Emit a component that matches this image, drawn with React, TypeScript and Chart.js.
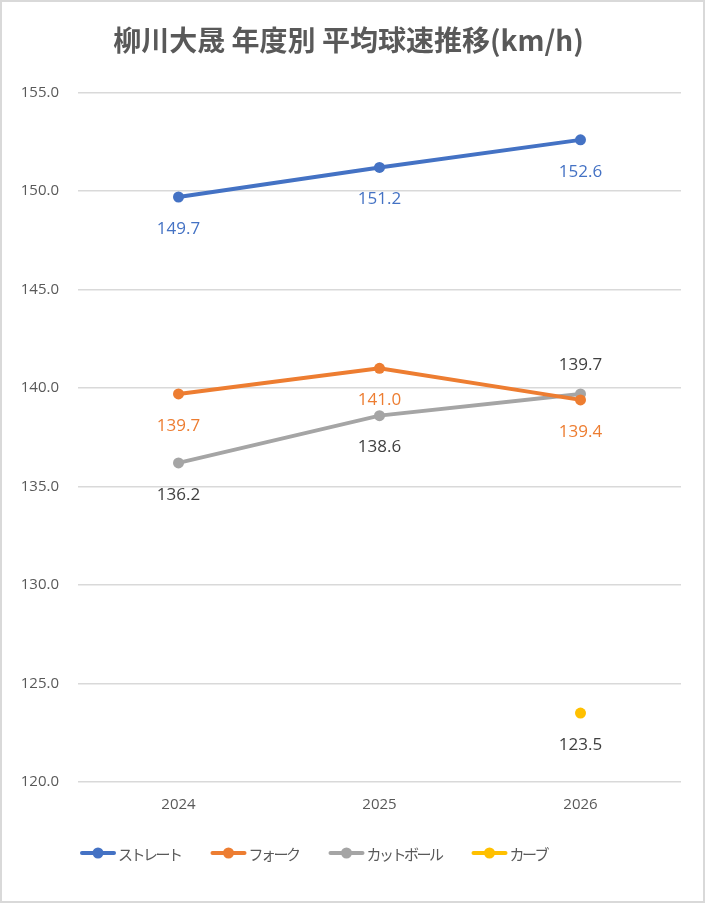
import { useEffect, useRef } from 'react';
import { Chart, registerables } from 'chart.js';

Chart.register(...registerables);

const years = ['2024', '2025', '2026'];
const straight = [149.7, 151.2, 152.6];
const fork = [139.7, 141.0, 139.4];
const cutter = [136.2, 138.6, 139.7];
const curve = [null, null, 123.5];

const seriesNames = ['ストレート', 'フォーク', 'カットボール', 'カーブ'];
const seriesColors = ['#4472C4', '#ED7D31', '#A5A5A5', '#FFC000'];
const labelColors = ['#4472C4', '#ED7D31', '#404040', '#404040'];
// label position per point: 1 = below, -1 = above
const labelSides = [
  [1, 1, 1],
  [1, 1, 1],
  [1, 1, -1],
  [1, 1, 1],
];

const FONT = '"Open Sans", "Noto Sans CJK JP", sans-serif';
const JP_FONT = '"Noto Sans CJK JP", "Open Sans", sans-serif';

const dataLabels = {
  id: 'dataLabels',
  afterDatasetsDraw(chart: Chart) {
    const ctx = chart.ctx;
    ctx.save();
    ctx.font = `17px ${FONT}`;
    ctx.textAlign = 'center';
    ctx.textBaseline = 'middle';
    chart.data.datasets.forEach((ds, i) => {
      const meta = chart.getDatasetMeta(i);
      meta.data.forEach((pt, j) => {
        const v = ds.data[j] as number | null;
        if (v == null) return;
        const side = labelSides[i][j];
        ctx.fillStyle = labelColors[i];
        ctx.fillText(v.toFixed(1), pt.x, pt.y + (side > 0 ? 32 : -29));
      });
    });
    ctx.restore();
  },
};

// legend drawn by hand: line + dot marker, left aligned like the original
const lineLegend = {
  id: 'lineLegend',
  afterDraw(chart: Chart) {
    const ctx = chart.ctx;
    const y = chart.height - 48;
    let x = 78;
    ctx.save();
    ctx.font = `15px ${JP_FONT}`;
    ctx.textBaseline = 'middle';
    ctx.textAlign = 'left';
    try {
      (ctx as any).letterSpacing = '-2.5px';
    } catch (e) {
      // ignore
    }
    chart.data.datasets.forEach((ds, i) => {
      const color = seriesColors[i];
      ctx.strokeStyle = color;
      ctx.fillStyle = color;
      ctx.lineWidth = 4;
      ctx.lineCap = 'round';
      ctx.beginPath();
      ctx.moveTo(x + 2, y);
      ctx.lineTo(x + 34, y);
      ctx.stroke();
      ctx.beginPath();
      ctx.arc(x + 18, y, 5.5, 0, Math.PI * 2);
      ctx.fill();
      ctx.fillStyle = '#595959';
      const label = ds.label as string;
      ctx.fillText(label, x + 38, y + 1);
      x += 38 + ctx.measureText(label).width + 30;
    });
    ctx.restore();
  },
};

const App = () => {
  const chartRef = useRef<HTMLCanvasElement>(null);
  const chartInstance = useRef<Chart | null>(null);

  useEffect(() => {
    if (!chartRef.current) return;
    if (chartInstance.current) chartInstance.current.destroy();
    const ctx = chartRef.current.getContext('2d');
    if (!ctx) return;

    const values = [straight, fork, cutter, curve];

    chartInstance.current = new Chart(ctx, {
      type: 'line',
      data: {
        labels: years,
        datasets: values.map((d, i) => ({
          label: seriesNames[i],
          data: d,
          borderColor: seriesColors[i],
          backgroundColor: seriesColors[i],
          borderWidth: 4,
          pointRadius: 5.5,
          pointHoverRadius: 5.5,
          pointBorderWidth: 0,
          tension: 0,
        })),
      },
      options: {
        responsive: true,
        maintainAspectRatio: false,
        animation: false,
        layout: { padding: { left: 14, right: 22, top: 0, bottom: 73 } },
        plugins: {
          title: {
            display: true,
            text: '柳川大晟 年度別 平均球速推移(km/h)',
            color: '#595959',
            font: { family: JP_FONT, size: 28, weight: 'bold' },
            padding: { top: 22, bottom: 35 },
          },
          legend: { display: false },
          tooltip: { enabled: false },
        },
        scales: {
          y: {
            min: 120,
            max: 155,
            ticks: {
              stepSize: 5,
              padding: 19,
              color: '#595959',
              font: { family: FONT, size: 15 },
              callback: (v) => Number(v).toFixed(1),
            },
            grid: { color: '#D9D9D9', lineWidth: 1.5, drawTicks: false },
            border: { display: false },
            afterFit: (scale) => {
              scale.width = 62;
            },
          },
          x: {
            offset: true,
            ticks: {
              padding: 14,
              color: '#595959',
              font: { family: FONT, size: 15 },
            },
            grid: { display: false, drawTicks: false },
            border: { display: false },
            afterFit: (scale) => {
              scale.height = 46;
            },
          },
        },
      },
      plugins: [dataLabels, lineLegend],
    });

    return () => {
      if (chartInstance.current) {
        chartInstance.current.destroy();
        chartInstance.current = null;
      }
    };
  }, []);

  return (
    <div
      style={{
        position: 'fixed',
        left: 0,
        top: 0,
        width: 705,
        height: 903,
        boxSizing: 'border-box',
        border: '2px solid #D9D9D9',
        background: '#FFFFFF',
      }}
    >
      <canvas ref={chartRef} />
    </div>
  );
};

export default App;
